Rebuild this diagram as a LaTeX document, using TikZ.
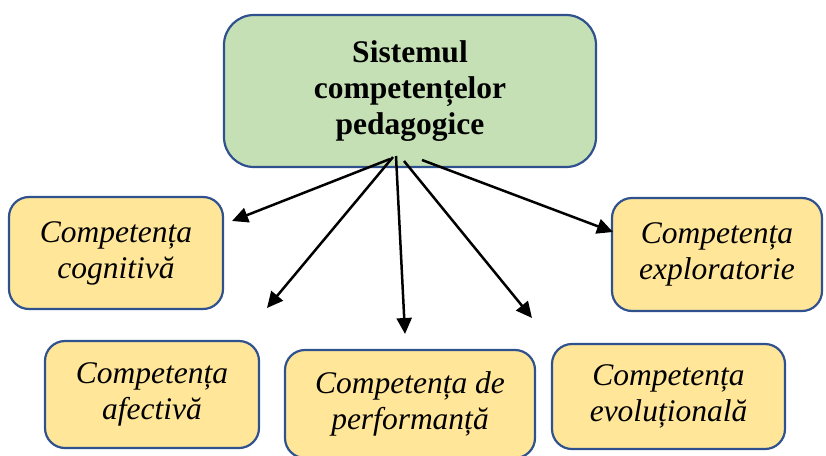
\documentclass[tikz,border=0pt]{standalone}
\usepackage{fontspec}
\setmainfont{Liberation Serif}
\usetikzlibrary{arrows.meta}
\definecolor{boxline}{HTML}{2F528F}
\definecolor{greenfill}{HTML}{C5E0B4}
\definecolor{yellowfill}{HTML}{FFE699}

\begin{document}
\begin{tikzpicture}[x=1pt,y=-1pt,
    comp/.style={draw=boxline,line width=2.2pt,fill=yellowfill,rounded corners=20pt,
      align=center,inner sep=0pt,font=\fontsize{31.5}{36}\selectfont\itshape},
    arr/.style={-{Triangle[length=16pt,width=15pt]},line width=2.5pt}]
            \useasboundingbox (0,0) rectangle (826,455);
            \node[draw=boxline,line width=2.2pt,fill=greenfill,rounded corners=30pt,
              minimum width=372pt,minimum height=152pt,align=center,
              font=\fontsize{31.5}{36}\selectfont\bfseries](a) at (410,91) {Sistemul\\competențelor\\pedagogice};
            \node[comp,minimum width=214pt,minimum height=112pt](b) at (116,253) {Competența\\cognitivă};
            \node[comp,minimum width=214pt,minimum height=107pt](c) at (152,394.5) {Competența\\afectivă};
            \node[comp,minimum width=250pt,minimum height=108pt](d) at (410,404) {Competența de\\performanță};
            \node[comp,minimum width=233pt,minimum height=105pt](e) at (668.5,396.5) {Competența\\evoluțională};
            \node[comp,minimum width=210pt,minimum height=113pt](f) at (717,254.5) {Competența\\exploratorie};

            % arrow ends
            \coordinate (s1) at (390,159); \coordinate (t1) at (232,221);
            \coordinate (s2) at (393,157); \coordinate (t2) at (267,308);
            \coordinate (s3) at (396,156); \coordinate (t3) at (405,334);
            \coordinate (s4) at (404,161); \coordinate (t4) at (532,318);
            \coordinate (s5) at (422,160); \coordinate (t5) at (613,232);

            \draw[arr] (s1) -- (t1);
            \draw[arr] (s2) -- (t2);
            \draw[arr] (s3) -- (t3);
            \draw[arr] (s4) -- (t4);
            \draw[arr] (s5) -- (t5);
          \end{tikzpicture}
\end{document}
